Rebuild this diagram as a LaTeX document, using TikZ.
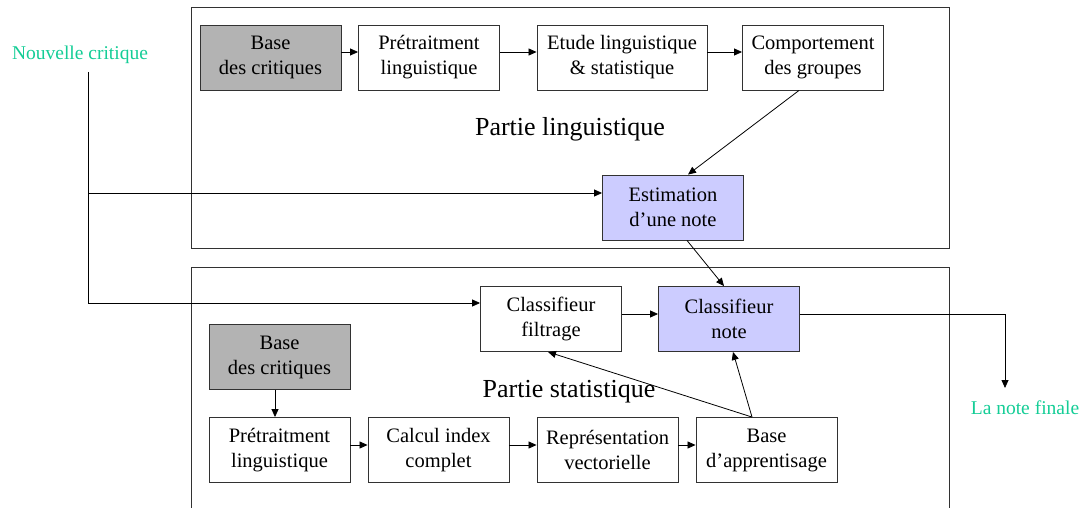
\documentclass[tikz,border=0pt]{standalone}
\usepackage{fontspec}
\setmainfont{Liberation Serif}
\usetikzlibrary{arrows.meta,calc}
\definecolor{labgreen}{RGB}{20,205,150}
\definecolor{boxgray}{RGB}{179,179,179}
\definecolor{boxblue}{RGB}{204,204,255}
\definecolor{framec}{RGB}{50,50,50}
\begin{document}
\begin{tikzpicture}[x=1pt,y=-1pt,
  box/.style={draw=framec, line width=0.9pt, minimum width=141pt, minimum height=65pt, inner sep=0pt, align=center, font=\fontsize{20.5}{25}\selectfont},
  graybox/.style={box, fill=boxgray},
  bluebox/.style={box, fill=boxblue},
  frame/.style={draw=framec, line width=0.9pt},
  parttext/.style={font=\fontsize{26}{30}\selectfont},
  gtext/.style={text=labgreen, font=\fontsize{19.5}{22}\selectfont},
  link/.style={draw=black, line width=0.8pt},
  arr/.style={link, -{Triangle[length=8pt,width=7pt]}}]
\useasboundingbox (0,0) rectangle (1087,508);
% frames
\draw[frame] (191,7) rectangle (949,248);
\draw[frame] (191,508) -- (191,267) -- (949,267) -- (949,508);
% top row
\node[graybox] (b1) at (270.5,57.5) {Base\\des critiques};
\node[box] (p1) at (429,57.5) {Prétraitment\\linguistique};
\node[box, minimum width=170pt] (e1) at (622,57.5) {Etude linguistique\\\& statistique};
\node[box] (c1) at (813,57.5) {Comportement\\des groupes};
\node[parttext] (pl) at (570,129) {Partie linguistique};
\node[bluebox] (est) at (673,207.5) {Estimation\\d’une note};
% bottom part
\node[box] (cf) at (551,319) {Classifieur\\filtrage};
\node[bluebox] (cn) at (729,319) {Classifieur\\note};
\node[graybox] (b2) at (279.5,357) {Base\\des critiques};
\node[parttext] (ps) at (569,392) {Partie statistique};
\node[box] (p2) at (279.5,450) {Prétraitment\\linguistique};
\node[box] (ci) at (438.5,450) {Calcul index\\complet};
\node[box] (rv) at (607.5,450) {Représentation\\vectorielle};
\node[box] (ba) at (766.5,450) {Base\\d’apprentisage};
% outside labels
\node[gtext] (nc) at (80,55) {Nouvelle critique};
\node[gtext] (lnf) at (1025,408) {La note finale};
\coordinate (ncs) at (88,72);
\coordinate (lnfin) at (1005,388);
% connectors top
\draw[arr] (b1.east |- 0,52) -- (p1.west |- 0,52);
\draw[arr] (p1.east |- 0,52) -- (e1.west |- 0,52);
\draw[arr] (e1.east |- 0,52) -- (c1.west |- 0,52);
\draw[arr] ($(c1.south)+(-14,0)$) -- ($(est.north)+(15,0)$);
\draw[arr] ($(est.south)+(14,0)$) -- ($(cn.north)+(-5,0)$);
\draw[arr] (ncs) |- (cf.west |- 0,303);
\draw[arr] (ncs |- 0,193) -- (est.west |- 0,193);
% connectors bottom
\draw[arr] (cf.east |- 0,314) -- (cn.west |- 0,314);
\draw[arr] (cn.east |- 0,314) -| (lnfin);
\draw[arr] (b2.south -| 275,0) -- (p2.north -| 275,0);
\draw[arr] (p2.east |- 0,445) -- (ci.west |- 0,445);
\draw[arr] (ci.east |- 0,445) -- (rv.west |- 0,445);
\draw[arr] (rv.east |- 0,445) -- (ba.west |- 0,445);
\draw[arr] ($(ba.north)+(-14.5,0)$) -- ($(cn.south)+(4,0)$);
\draw[arr] ($(ba.north)+(-14.5,0)$) -- ($(cf.south)+(-3,0)$);
\end{tikzpicture}
\end{document}
